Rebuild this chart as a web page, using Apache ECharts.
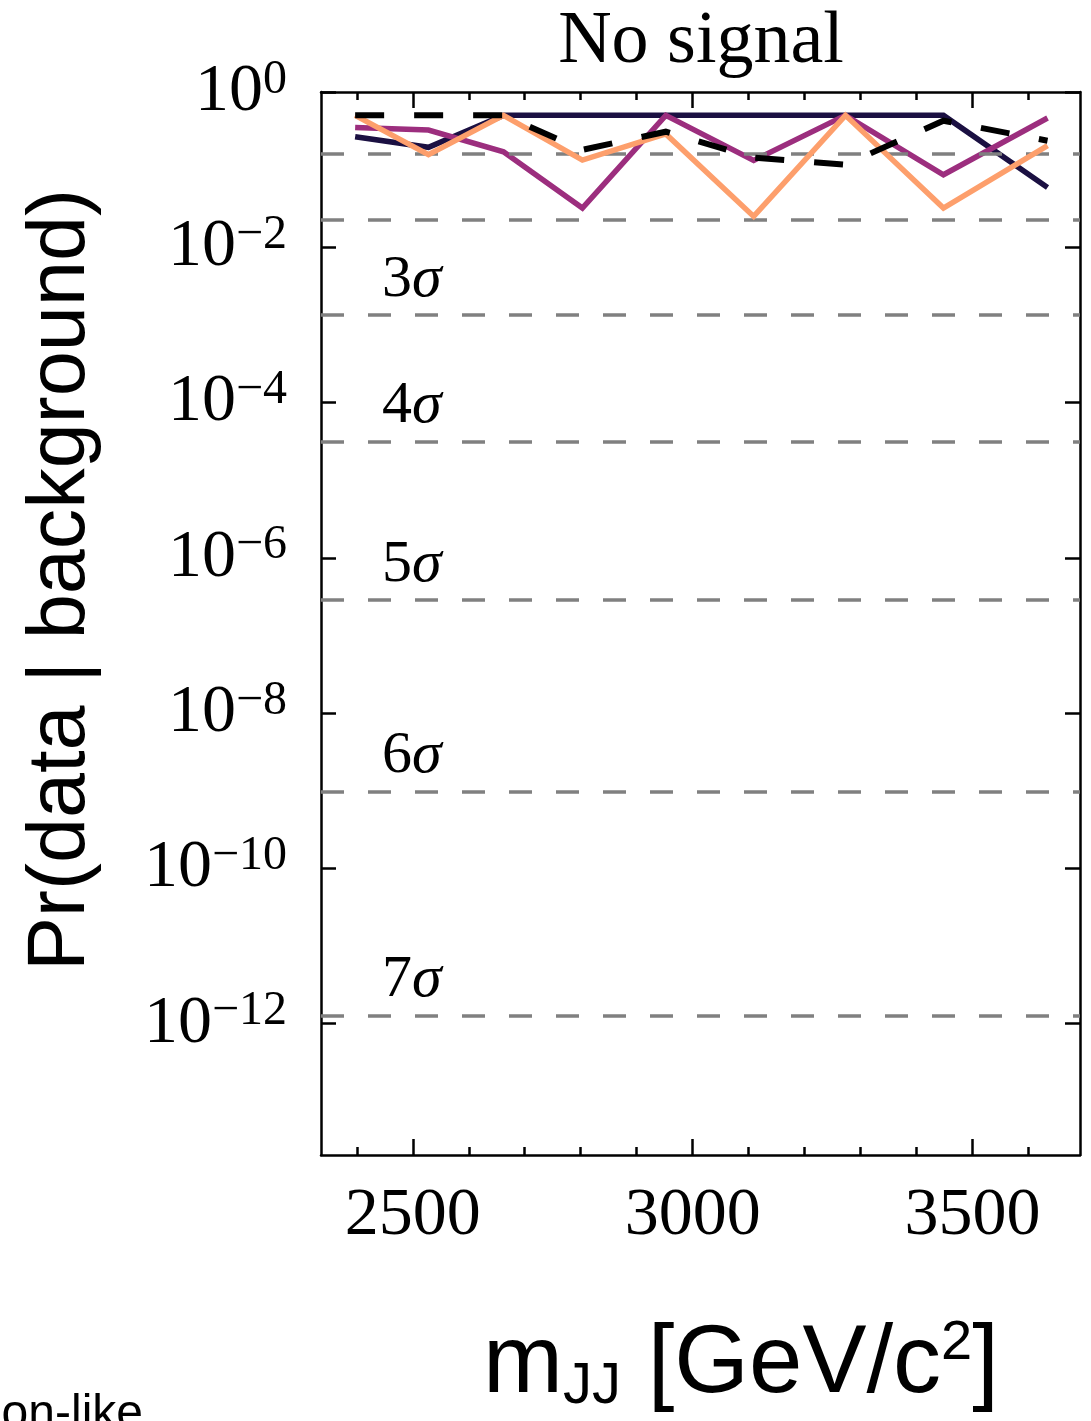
<!DOCTYPE html>
<html>
<head>
<meta charset="utf-8">
<script src="https://cdn.jsdelivr.net/npm/echarts@6/dist/echarts.min.js"></script>
<style>
  html, body { margin: 0; padding: 0; background: #ffffff; }
  #chart { width: 1091px; height: 1421px; }
</style>
</head>
<body>
<div id="chart"></div>
<script>
// Dijet invariant mass bin centres [GeV/c^2]
const mjj = [2397, 2528, 2662, 2803, 2952, 3109, 3273, 3448, 3634];

// Local p-values per bin, one array per curve
const pDark    = [0.266, 0.194, 0.5, 0.5, 0.5, 0.5, 0.5, 0.5, 0.059];
const pMagenta = [0.35, 0.324, 0.17, 0.032, 0.5, 0.131, 0.5, 0.086, 0.463];
const pOrange  = [0.5, 0.156, 0.5, 0.133, 0.288, 0.025, 0.5, 0.032, 0.204];
const pDashed  = [0.5, 0.5, 0.5, 0.18, 0.308, 0.143, 0.116, 0.427, 0.236];

// One-sided Gaussian significance thresholds (1 sigma ... 7 sigma)
const sigmaP      = [1.587e-1, 2.275e-2, 1.350e-3, 3.167e-5, 2.867e-7, 9.866e-10, 1.280e-12];
const sigmaLabels = ['', '', '3', '4', '5', '6', '7'];

// Axis ticks
const yTicks  = [1, 1e-2, 1e-4, 1e-6, 1e-8, 1e-10, 1e-12];
const xMajor  = [2500, 3000, 3500];
const xMinor  = [2400, 2600, 2700, 2800, 2900, 3100, 3200, 3300, 3400, 3600];

const SERIF = '"Liberation Serif", "DejaVu Serif", serif';
const SANS  = '"Liberation Sans", "DejaVu Sans", sans-serif';
const X_MIN = 2336, X_MAX = 3692;
const Y_MIN = 2.04e-14, Y_MAX = 1;
const AXIS_W = 2.5;

function pairs(ys) { return mjj.map((x, i) => [x, ys[i]]); }

function xAxisDef(position, values, tickLen, showLine, showLabel) {
  return {
    type: 'value', position: position, min: X_MIN, max: X_MAX,
    axisLine: { show: showLine, onZero: false, lineStyle: { color: '#000', width: AXIS_W } },
    axisTick: { show: true, inside: true, length: tickLen, customValues: values,
                lineStyle: { color: '#000', width: AXIS_W } },
    axisLabel: { show: showLabel, customValues: values, margin: 27,
                 formatter: function (v) { return String(Math.round(v)); },
                 fontFamily: SERIF, fontSize: 68, color: '#000' },
    splitLine: { show: false }
  };
}

function yAxisDef(position, showLabel) {
  return {
    type: 'log', logBase: 10, position: position, min: Y_MIN, max: Y_MAX,
    axisLine: { show: true, onZero: false, lineStyle: { color: '#000', width: AXIS_W } },
    axisTick: { show: true, inside: true, length: 15, customValues: yTicks,
                lineStyle: { color: '#000', width: AXIS_W } },
    axisLabel: {
      show: showLabel, customValues: yTicks, margin: 34, color: '#000',
      formatter: function (v) {
        const e = Math.round(Math.log10(v));
        return '{b|10}{s|' + String(e).replace('-', '\u2212') + '}';
      },
      rich: {
        b: { fontFamily: SERIF, fontSize: 68, lineHeight: 72, color: '#000' },
        s: { fontFamily: SERIF, fontSize: 48, lineHeight: 38, verticalAlign: 'top', color: '#000' }
      }
    },
    splitLine: { show: false }
  };
}

function curve(name, ys, color, width, dash, z) {
  return {
    name: name, type: 'line', data: pairs(ys), z: z,
    xAxisIndex: 0, yAxisIndex: 0,
    showSymbol: false, symbol: 'none', silent: true,
    lineStyle: { color: color, width: width, type: dash || 'solid', cap: 'butt', join: 'miter' }
  };
}

const sigmaLines = sigmaP.map((p, i) => ({
  yAxis: p,
  label: sigmaLabels[i]
    ? { show: true, formatter: '{n|' + sigmaLabels[i] + '}{g|\u03c3}' }
    : { show: false }
}));

const option = {
  backgroundColor: '#ffffff',
  animation: false,
  grid: { left: 321, right: 11, top: 92, bottom: 266, containLabel: false, outerBoundsMode: 'none' },
  xAxis: [
    xAxisDef('bottom', xMajor, 16, true, true),
    xAxisDef('bottom', xMinor, 8, false, false),
    xAxisDef('top', xMajor, 16, true, false),
    xAxisDef('top', xMinor, 8, false, false)
  ],
  yAxis: [
    yAxisDef('left', true),
    yAxisDef('right', false)
  ],
  series: [
    {
      name: 'sigma', type: 'line', data: [], z: 1, silent: true,
      xAxisIndex: 0, yAxisIndex: 0,
      markLine: {
        silent: true, symbol: 'none', animation: false, precision: 16,
        lineStyle: { color: '#808080', width: 3.5, type: [23, 24], cap: 'butt' },
        label: {
          position: 'insideStartTop', distance: [61, 5], color: '#000',
          rich: {
            n: { fontFamily: SERIF, fontSize: 60, lineHeight: 60, color: '#000' },
            g: { fontFamily: SERIF, fontSize: 60, lineHeight: 60, fontStyle: 'italic', color: '#000' }
          }
        },
        data: sigmaLines
      }
    },
    curve('dark', pDark, '#1b1042', 5.5, null, 3),
    curve('magenta', pMagenta, '#9c2e7e', 5.5, null, 4),
    curve('orange', pOrange, '#fd9f6c', 5.5, null, 5),
    curve('dashed', pDashed, '#000000', 6, [29, 30], 6)
  ],
  graphic: [
    {
      type: 'text', x: 701, y: 43, silent: true,
      style: { text: 'No signal', fontFamily: SERIF, fontSize: 74, fill: '#000',
               align: 'center', verticalAlign: 'middle' }
    },
    {
      type: 'text', x: 62, y: 580, rotation: Math.PI / 2, silent: true,
      style: { text: 'Pr(data | background)', fontFamily: SANS, fontSize: 81, fill: '#000',
               align: 'center', verticalAlign: 'middle' }
    },
    {
      type: 'text', x: 483, y: 1366, silent: true,
      style: {
        text: '{m|m}{s|JJ}{m| [GeV/c}{p|2}{m|]}',
        align: 'left', verticalAlign: 'middle',
        rich: {
          m: { fontFamily: SANS, fontSize: 96, lineHeight: 100, color: '#000' },
          s: { fontFamily: SANS, fontSize: 58, lineHeight: 59, verticalAlign: 'bottom', color: '#000' },
          p: { fontFamily: SANS, fontSize: 56, lineHeight: 76, verticalAlign: 'top', color: '#000' }
        }
      }
    },
    {
      type: 'text', x: 143, y: 1415, silent: true,
      style: { text: 'on-like', fontFamily: SANS, fontSize: 48, fill: '#000',
               align: 'right', verticalAlign: 'middle' }
    }
  ]
};

const chart = echarts.init(document.getElementById('chart'), null, { renderer: 'canvas' });
chart.setOption(option);
</script>
</body>
</html>
